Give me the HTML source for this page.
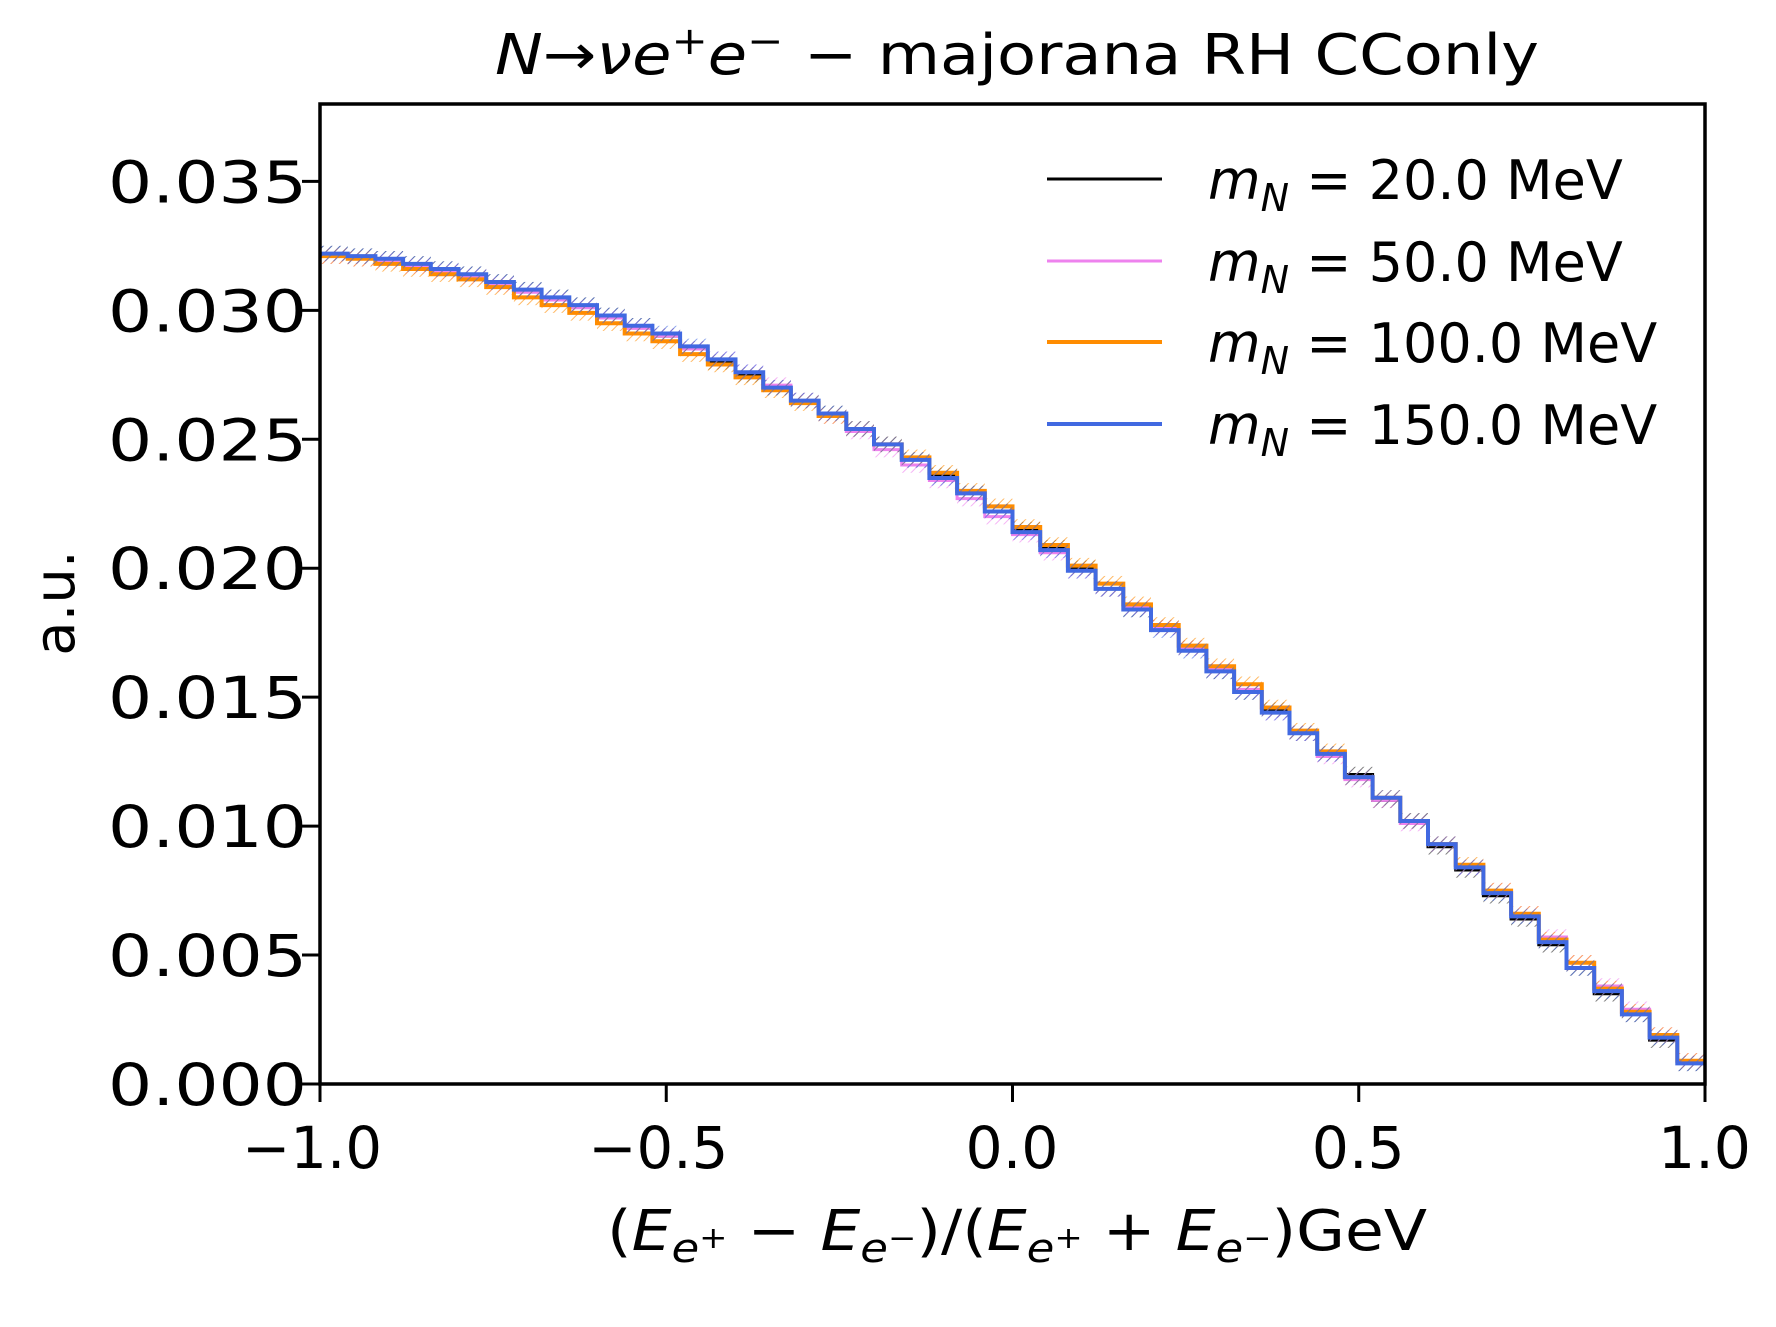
<!DOCTYPE html>
<html><head><meta charset="utf-8"><style>
html,body{margin:0;padding:0;background:#fff}
svg text{font-family:"DejaVu Sans","Liberation Sans",sans-serif;fill:#000}
</style></head><body>
<svg id="chart" width="1776" height="1322" viewBox="0 0 1776 1322" xmlns="http://www.w3.org/2000/svg">
<defs>
<pattern id="hatch-black" patternUnits="userSpaceOnUse" width="6" height="6" patternTransform="rotate(45)"><line x1="0" y1="0" x2="0" y2="6" stroke="#000" stroke-width="2" opacity="0.5"/></pattern>
<pattern id="hatch-violet" patternUnits="userSpaceOnUse" width="6" height="6" patternTransform="rotate(45)"><line x1="0" y1="0" x2="0" y2="6" stroke="violet" stroke-width="2" opacity="0.6"/></pattern>
<pattern id="hatch-orange" patternUnits="userSpaceOnUse" width="6" height="6" patternTransform="rotate(45)"><line x1="0" y1="0" x2="0" y2="6" stroke="darkorange" stroke-width="2" opacity="0.6"/></pattern>
<pattern id="hatch-blue" patternUnits="userSpaceOnUse" width="6" height="6" patternTransform="rotate(45)"><line x1="0" y1="0" x2="0" y2="6" stroke="royalblue" stroke-width="2" opacity="0.6"/></pattern>
</defs>
<text x="495" y="74" font-size="56" textLength="1044" lengthAdjust="spacingAndGlyphs"><tspan font-style="italic">N</tspan>→<tspan font-style="italic">νe</tspan><tspan font-size="38" dy="-20">+</tspan><tspan dy="20" font-style="italic">e</tspan><tspan font-size="38" dy="-20">−</tspan><tspan dy="20"> − majorana RH CConly</tspan></text>
<g id="marks"></g>
<g id="axes"></g>
<text transform="translate(74,603) rotate(-90)" font-size="56" text-anchor="middle">a.u.</text>
<text x="607" y="1250" font-size="56" textLength="820" lengthAdjust="spacingAndGlyphs">(<tspan font-style="italic">E</tspan><tspan font-size="40" dy="12" font-style="italic">e</tspan><tspan font-size="30" dy="-14">+</tspan><tspan dy="2"> − </tspan><tspan font-style="italic">E</tspan><tspan font-size="40" dy="12" font-style="italic">e</tspan><tspan font-size="30" dy="-14">−</tspan><tspan dy="2">)/(</tspan><tspan font-style="italic">E</tspan><tspan font-size="40" dy="12" font-style="italic">e</tspan><tspan font-size="30" dy="-14">+</tspan><tspan dy="2"> + </tspan><tspan font-style="italic">E</tspan><tspan font-size="40" dy="12" font-style="italic">e</tspan><tspan font-size="30" dy="-14">−</tspan><tspan dy="2">)GeV</tspan></text>
<g id="legend"></g>
</svg>
<script>
const binEdgesMin = -1.0;
const binEdgesMax = 1.0;
const yTicks = [0, 0.005, 0.010, 0.015, 0.020, 0.025, 0.030, 0.035];
const yTickLabels = ["0.000","0.005","0.010","0.015","0.020","0.025","0.030","0.035"];
const xTicks = [-1.0, -0.5, 0.0, 0.5, 1.0];
const xTickLabels = ["−1.0","−0.5","0.0","0.5","1.0"];
const seriesNames = ["20.0 MeV","50.0 MeV","100.0 MeV","150.0 MeV"];
const valuesM20 = [0.0322,0.0321,0.0320,0.0318,0.0316,0.0314,0.0311,0.0308,0.0305,0.0302,0.0298,0.0294,0.0290,0.0285,0.0280,0.0275,0.0270,0.0265,0.0260,0.0254,0.0248,0.0242,0.0236,0.0229,0.0222,0.0215,0.0208,0.0200,0.0192,0.0184,0.0177,0.0169,0.0160,0.0152,0.0145,0.0136,0.0128,0.0120,0.0110,0.0102,0.0092,0.0083,0.0073,0.0064,0.0054,0.0045,0.0035,0.0027,0.0017,0.0008];
const valuesM50 = [0.0321,0.0320,0.0319,0.0317,0.0315,0.0313,0.0310,0.0307,0.0304,0.0301,0.0297,0.0293,0.0290,0.0285,0.0281,0.0276,0.0271,0.0265,0.0259,0.0253,0.0246,0.0240,0.0234,0.0227,0.0220,0.0213,0.0206,0.0199,0.0192,0.0185,0.0177,0.0169,0.0161,0.0153,0.0144,0.0136,0.0127,0.0118,0.0110,0.0101,0.0093,0.0084,0.0075,0.0066,0.0057,0.0047,0.0038,0.0029,0.0019,0.0009];
const valuesM100 = [0.0321,0.0320,0.0318,0.0316,0.0314,0.0312,0.0309,0.0305,0.0302,0.0299,0.0295,0.0291,0.0288,0.0283,0.0279,0.0274,0.0269,0.0264,0.0259,0.0254,0.0248,0.0243,0.0237,0.0230,0.0224,0.0216,0.0209,0.0201,0.0194,0.0186,0.0178,0.0170,0.0162,0.0155,0.0146,0.0137,0.0129,0.0119,0.0111,0.0102,0.0093,0.0085,0.0075,0.0066,0.0056,0.0047,0.0037,0.0028,0.0019,0.0009];
const valuesM150 = [0.0322,0.0321,0.0320,0.0318,0.0316,0.0314,0.0311,0.0308,0.0305,0.0302,0.0298,0.0294,0.0291,0.0286,0.0281,0.0276,0.0270,0.0265,0.0260,0.0254,0.0248,0.0242,0.0235,0.0229,0.0222,0.0214,0.0207,0.0199,0.0192,0.0184,0.0176,0.0168,0.0160,0.0152,0.0144,0.0136,0.0128,0.0119,0.0111,0.0102,0.0093,0.0084,0.0074,0.0065,0.0055,0.0045,0.0036,0.0027,0.0018,0.0008];
const errorHalfWidth = [0.0003,0.0003,0.0003,0.0003];

const NS = "http://www.w3.org/2000/svg";
const L = 320, R = 1705, T = 104, B = 1084;
const yMax = 0.038;
function xs(v){ return L + (v - binEdgesMin) / (binEdgesMax - binEdgesMin) * (R - L); }
function ys(v){ return B - v / yMax * (B - T); }
function mk(tag, attrs, parent){ const e = document.createElementNS(NS, tag); for (const k in attrs) e.setAttribute(k, attrs[k]); parent.appendChild(e); return e; }

const marks = document.getElementById('marks');
const allSeries = [valuesM20, valuesM50, valuesM100, valuesM150];
const colors = ["#000000","violet","darkorange","royalblue"];
const hatches = ["url(#hatch-black)","url(#hatch-violet)","url(#hatch-orange)","url(#hatch-blue)"];
const widths = [3,3,4,4];
allSeries.forEach((vals, s) => {
  const n = vals.length, w = (binEdgesMax - binEdgesMin) / n;
  const g = mk('g', {}, marks);
  
  
  vals.forEach((v, i) => {
    const x0 = xs(binEdgesMin + i * w), x1 = xs(binEdgesMin + (i + 1) * w);
    const band = mk('rect', {x: x0, y: ys(v + errorHalfWidth[s]), width: x1 - x0, height: ys(v - errorHalfWidth[s]) - ys(v + errorHalfWidth[s]), fill: hatches[s]}, g);
    
    
  });
  let d = '';
  vals.forEach((v, i) => {
    const x0 = xs(binEdgesMin + i * w), x1 = xs(binEdgesMin + (i + 1) * w);
    d += (i === 0 ? 'M' : 'L') + x0 + ',' + ys(v) + 'L' + x1 + ',' + ys(v);
  });
  const p = mk('path', {d: d, fill: 'none', stroke: colors[s], 'stroke-width': widths[s]}, g);
  
  
});

const axes = document.getElementById('axes');
const frame = mk('rect', {x: L, y: T, width: R - L, height: B - T, fill: 'none', stroke: '#000', 'stroke-width': 3.5}, axes);


yTicks.forEach((v, i) => {
  const t = mk('line', {x1: L - 18, x2: L, y1: ys(v), y2: ys(v), stroke: '#000', 'stroke-width': 3}, axes);
  
  
  const tx = mk('text', {x: 108, y: ys(v) + 21, 'font-size': 58, textLength: 199, lengthAdjust: 'spacingAndGlyphs'}, axes);
  tx.textContent = yTickLabels[i];
  
  
});
xTicks.forEach((v, i) => {
  const len = xTickLabels[i].length === 4 ? 140 : 93;
  const off = xTickLabels[i].length === 4 ? 78 : 47;
  const t = mk('line', {x1: xs(v), x2: xs(v), y1: B, y2: B + 18, stroke: '#000', 'stroke-width': 3}, axes);
  
  
  const tx = mk('text', {x: xs(v) - off, y: 1168, 'font-size': 58, textLength: len, lengthAdjust: 'spacingAndGlyphs'}, axes);
  tx.textContent = xTickLabels[i];
  
  
});

const legend = document.getElementById('legend');
const rowY = [179, 261, 342, 424];
seriesNames.forEach((name, s) => {
  const g = mk('g', {}, legend);
  
  
  mk('line', {x1: 1047, x2: 1162, y1: rowY[s], y2: rowY[s], stroke: colors[s], 'stroke-width': widths[s]}, g);
  const t = mk('text', {x: 1208, y: rowY[s] + 20, 'font-size': 54}, g);
  const a = document.createElementNS(NS, 'tspan'); a.setAttribute('font-style', 'italic'); a.textContent = 'm'; t.appendChild(a);
  const b = document.createElementNS(NS, 'tspan'); b.setAttribute('font-style', 'italic'); b.setAttribute('font-size', '38'); b.setAttribute('dy', '12'); b.textContent = 'N'; t.appendChild(b);
  const c = document.createElementNS(NS, 'tspan'); c.setAttribute('dy', '-12'); c.textContent = ' = ' + name; t.appendChild(c);
});
</script>
</body></html>
